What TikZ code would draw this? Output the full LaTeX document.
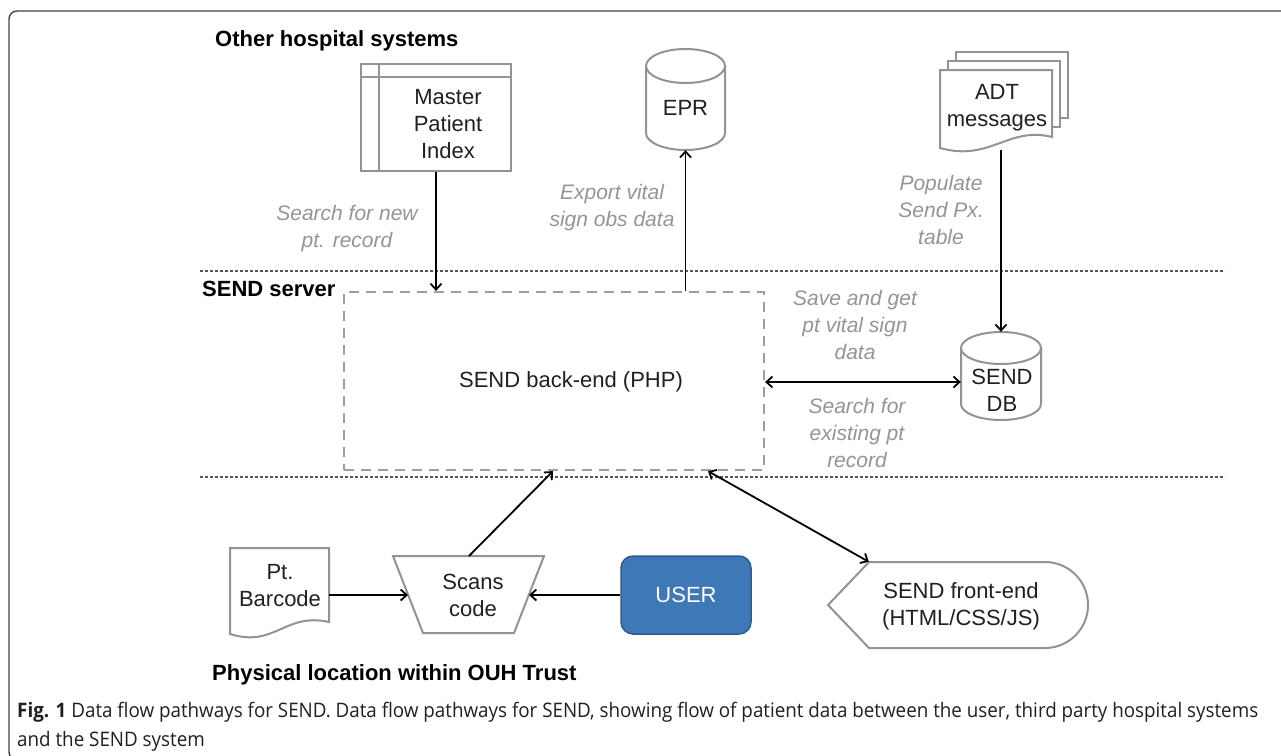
\documentclass[tikz,border=0pt]{standalone}
\usepackage{fontspec}
\setmainfont{Liberation Sans}
\newfontfamily\capfont{Open Sans}
\usetikzlibrary{arrows.meta,calc}
\definecolor{shapegray}{HTML}{939393}
\definecolor{labelgray}{HTML}{939598}
\definecolor{txtdark}{HTML}{231F20}
\definecolor{userblue}{HTML}{3F78B6}
\definecolor{userborder}{HTML}{2D5C8F}
\definecolor{framegray}{HTML}{444444}
\definecolor{dotgray}{HTML}{555555}
\newlength\capwid
\newcommand\capone{\textbf{Fig. 1} Data flow pathways for SEND. Data flow pathways for SEND, showing flow of patient data between the user, third party hospital systems}
\tikzset{
  shp/.style={draw=shapegray, line width=2pt, fill=white},
  txt/.style={text=txtdark, font=\fontsize{22}{27}\selectfont, align=center, inner sep=0pt},
  lbl/.style={text=labelgray, font=\fontsize{21}{27}\selectfont\itshape, align=center, inner sep=0pt},
  head/.style={text=black, font=\fontsize{22}{26}\selectfont\bfseries, anchor=west, inner sep=0pt},
  arr/.style={draw=black, line width=1.8pt, -{Straight Barb[length=6pt,width=11pt]}},
  darr/.style={draw=black, line width=1.8pt, {Straight Barb[length=6pt,width=11pt]}-{Straight Barb[length=6pt,width=11pt]}},
  zone/.style={draw=dotgray, line width=1.1pt, dash pattern=on 2.5pt off 2.5pt},
  ghost/.style={draw=none, inner sep=0pt}
}
\begin{document}
\settowidth\capwid{\capfont\fontsize{20}{30}\selectfont\capone}%
\pgfmathsetmacro\capf{1241/\capwid}%
\begin{tikzpicture}[x=1pt,y=-1pt]
\useasboundingbox (0,0) rectangle (1281,755);
\fill[white] (0,0) rectangle (1281,755);
% frame
\draw[framegray, line width=1.4pt, rounded corners=8pt] (1300,11) -- (9,11) -- (9,760) -- (1300,760);

% zone separators
\draw[zone] (200,271) -- (1225,271);
\draw[zone] (200,477) -- (1225,477);

% headings
\node[head, anchor=base west] (h1) at (215,46) {Other hospital systems};
\node[head] (h2) at (202,289) {SEND server};
\node[head, anchor=base west] (h3) at (212,680) {Physical location within OUH Trust};

% Master Patient Index
\node[shp, minimum width=150pt, minimum height=107pt, inner sep=0pt] (mpi) at (436,117.5) {};
\draw[shapegray, line width=2pt] (379,64) -- (379,171);
\draw[shapegray, line width=2pt] (361,77) -- (511,77);
\node[txt] (mpit) at (448,124) {Master\\Patient\\Index};

% EPR cylinder
\node[ghost, minimum width=79pt, minimum height=101pt] (epr) at (685.5,99.5) {};
\filldraw[shp] (646,66) -- (646,133) arc[start angle=180, end angle=0, x radius=39.5, y radius=17] -- (725,66) -- cycle;
\draw[shp] (685.5,66) ellipse[x radius=39.5, y radius=17];
\node[txt] (eprt) at (685.5,108) {EPR};

% ADT messages (stacked documents)
\filldraw[shp] (956,52) -- (1068,52) -- (1068,118) -- (1060,118) -- (1060,61) -- (956,61) -- cycle;
\filldraw[shp] (948,61) -- (1060,61) -- (1060,127) -- (1052,127) -- (1052,70) -- (948,70) -- cycle;
\filldraw[shp] (940,70) -- (1052,70) -- (1052,137) .. controls (1008,126) and (990,162) .. (940,148) -- cycle;
\node[ghost, minimum width=112pt, minimum height=80pt] (adt) at (996,110) {};
\node[txt] (adtt) at (997,108) {ADT\\messages};

% SEND DB cylinder
\node[ghost, minimum width=80pt, minimum height=88pt] (sdb) at (1001,376) {};
\filldraw[shp] (961,348) -- (961,404) arc[start angle=180, end angle=0, x radius=40, y radius=16] -- (1041,348) -- cycle;
\draw[shp] (1001,348) ellipse[x radius=40, y radius=16];
\node[txt] (sdbt) at (1002,390) {SEND\\DB};

% SEND back-end
\node[draw=shapegray!90, line width=2.2pt, dash pattern=on 10pt off 7pt, minimum width=420pt, minimum height=178pt, inner sep=0pt] (be) at (554,381) {};
\node[txt] (bet) at (571,382) {SEND back-end (PHP)};

% Pt. Barcode document
\node[ghost, minimum width=99pt, minimum height=75pt] (bc) at (279.5,585.5) {};
\filldraw[shp] (230,548) -- (329,548) -- (329,622) .. controls (285,612) and (275,648) .. (230,634) -- cycle;
\node[txt] (bct) at (280,586) {Pt.\\Barcode};

% Scans code trapezium
\filldraw[shp] (393,556) -- (544,556) -- (514,633) -- (423,633) -- cycle;
\node[txt] (sc) at (473,595) {Scans\\code};
\coordinate (scL) at (408,595);
\coordinate (scR) at (529,595);
\coordinate (scT) at (469,556);

% USER
\node[draw=userborder, fill=userblue, line width=1.5pt, rounded corners=12pt, minimum width=130pt, minimum height=78pt, inner sep=0pt, text=white, font=\fontsize{22}{27}\selectfont] (user) at (686,595) {USER};

% SEND front-end display shape
\node[ghost, minimum width=176pt, minimum height=86pt] (fe) at (957,605) {};
\filldraw[shp] (828,605) -- (869,562) -- (1045,562) arc[start angle=-90, end angle=90, radius=43] -- (869,648) -- cycle;
\node[txt] (fet) at (961,606) {SEND front-end\\(HTML/CSS/JS)};

% connectors
\draw[arr] (mpi.south) -- (mpi.south |- be.north);
\draw[arr] (be.north -| epr.south) -- (epr.south);
\draw[arr] (sdb.north |- adt.south) -- (sdb.north);
\draw[darr] (be.east |- 0,382) -- (sdb.west |- 0,382);
\draw[arr] (scT) -- (be.south -| 553,0);
\draw[darr] (be.south -| 708,0) -- (fe.north west);
\draw[arr] (bc.east |- scL) -- (scL);
\draw[arr] (user.west) -- (scR);

% labels
\node[lbl] (l1) at (347,229) {Search for new\\pt. record};
\node[lbl] (l2) at (612,208) {Export vital\\sign obs data};
\node[lbl] (l3) at (941,210) {Populate\\Send Px.\\table};
\node[lbl] (l4) at (855,325) {Save and get\\pt vital sign\\data};
\node[lbl] (l5) at (857,433) {Search for\\existing pt\\record};

% caption
\node[anchor=base west, inner sep=0pt, text=txtdark] (cap1) at (17,717) {\scalebox{\capf}[1]{\capfont\fontsize{20}{30}\selectfont\capone}};
\node[anchor=base west, inner sep=0pt, text=txtdark] (cap2) at (17,746) {\scalebox{\capf}[1]{\capfont\fontsize{20}{30}\selectfont and the SEND system}};
\end{tikzpicture}
\end{document}
